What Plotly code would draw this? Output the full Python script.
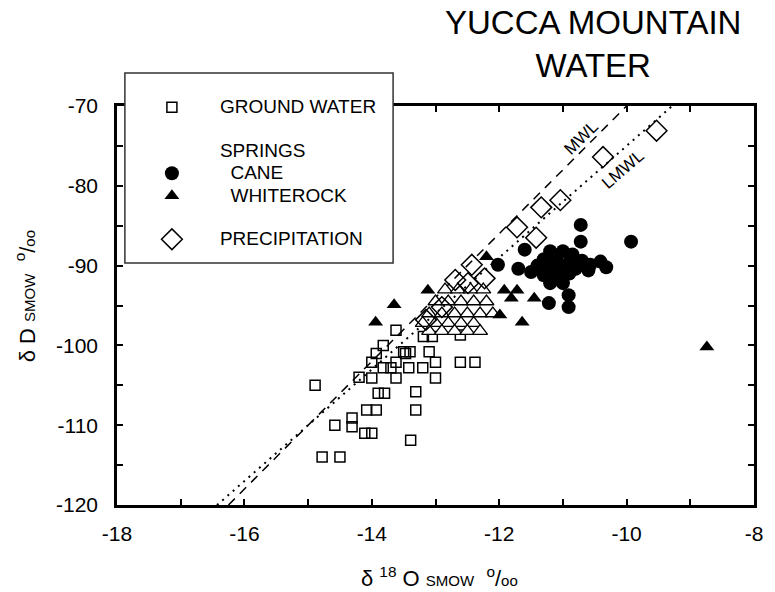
import plotly.graph_objects as go

FONT = "Liberation Sans, Arial, Helvetica, sans-serif"

# ---------------- data ----------------
gw_x = [-14.89, -14.78, -14.50, -14.58, -14.31, -14.31, -14.11, -14.00, -14.08, -13.93,
        -13.31, -13.39, -13.90, -13.80, -13.31, -14.20, -14.00, -13.62, -13.00, -13.82,
        -13.70, -13.42, -13.20, -14.00, -13.62, -13.47, -13.00, -12.61, -12.38, -13.93,
        -13.50, -13.40, -13.10, -13.82, -13.62, -13.19, -13.05, -12.61]
gw_y = [-105.0, -114.0, -114.0, -110.0, -109.1, -110.2, -111.0, -111.0, -108.1, -108.1,
        -108.1, -111.9, -106.0, -106.0, -105.8, -104.0, -104.1, -104.1, -104.1, -102.8,
        -102.8, -102.8, -102.8, -102.1, -102.1, -101.0, -102.1, -102.1, -102.1, -101.0,
        -100.8, -100.8, -100.8, -100.0, -98.1, -98.9, -98.9, -98.7]

cane_x = [-10.72, -10.72, -9.93, -11.60, -12.02, -11.50, -10.41, -10.32, -10.57, -11.22,
          -10.91, -10.91, -11.20, -11.00, -10.85, -11.30, -11.10, -10.90, -11.20, -11.00,
          -10.80, -11.30, -11.10, -10.90, -11.20, -11.00, -11.40, -10.70, -10.60, -11.70]
cane_y = [-84.9, -87.0, -87.0, -88.0, -89.9, -90.8, -89.5, -90.2, -89.9, -94.7,
          -93.7, -95.2, -88.2, -88.2, -88.6, -89.2, -89.2, -89.6, -90.2, -90.2,
          -90.4, -91.2, -91.2, -91.0, -92.2, -92.2, -90.0, -89.4, -90.6, -90.4]

wr_x = [-8.74, -11.64, -11.45, -13.12, -13.94, -13.65, -12.20, -11.92, -11.72, -11.81, -11.99]
wr_y = [-100.2, -97.1, -94.1, -93.1, -97.1, -94.9, -88.9, -93.1, -93.1, -94.1, -96.2]

wr_open_x = [-12.85, -12.65, -12.45, -12.25,
             -13.00, -12.80, -12.60, -12.40, -12.20,
             -13.10, -12.90, -12.70, -12.50, -12.30, -12.10,
             -13.20, -13.00, -12.80, -12.60, -12.40,
             -13.10, -12.90, -12.70, -12.50, -12.30]
wr_open_y = [-93.0] * 4 + [-94.5] * 5 + [-96.0] * 6 + [-97.2] * 5 + [-98.2] * 5

pr_x = [-9.53, -10.37, -11.04, -11.34, -11.72, -11.42, -12.43, -12.23, -12.69, -12.49, -12.90, -13.15]
pr_y = [-73.1, -76.4, -81.8, -82.7, -85.2, -86.5, -89.9, -91.6, -91.8, -92.2, -95.2, -96.8]

# meteoric water lines (slope, intercept, x extent)
mwl_slope, mwl_int = 8.0, 10.0
mwl_x = [-16.25, -10.0]
lmwl_slope, lmwl_int = 7.0, -5.0
lmwl_x = [-16.43, -9.29]

x_labels = list(range(-18, -7, 2))
y_labels = list(range(-120, -69, 10))

# ---------------- figure ----------------
fig = go.Figure()

fig.add_trace(go.Scatter(
    x=mwl_x, y=[mwl_slope * v + mwl_int for v in mwl_x], mode="lines",
    line=dict(color="black", width=1.5, dash="9px,7px"), showlegend=False, hoverinfo="skip"))
fig.add_trace(go.Scatter(
    x=lmwl_x, y=[lmwl_slope * v + lmwl_int for v in lmwl_x], mode="lines",
    line=dict(color="black", width=2, dash="2px,5px"), showlegend=False, hoverinfo="skip"))

big = '<span style="font-size:19px">%s</span>'

fig.add_trace(go.Scatter(
    x=gw_x, y=gw_y, mode="markers", name=big % "GROUND WATER", legendgroup="gw",
    marker=dict(symbol="square-open", size=10, color="black", line=dict(width=1.5))))
fig.add_trace(go.Scatter(
    x=[None], y=[None], mode="markers", name=big % "SPRINGS", legendgroup="springs",
    marker=dict(size=1, color="rgba(0,0,0,0)")))
fig.add_trace(go.Scatter(
    x=cane_x, y=cane_y, mode="markers", name=big % "\u00a0\u00a0CANE", legendgroup="springs",
    marker=dict(symbol="circle", size=14, color="black")))
fig.add_trace(go.Scatter(
    x=wr_open_x, y=wr_open_y, mode="markers", name="WHITEROCK open", showlegend=False,
    marker=dict(symbol="triangle-up", size=13, color="white", line=dict(color="black", width=1.3))))
fig.add_trace(go.Scatter(
    x=wr_x, y=wr_y, mode="markers", name=big % "\u00a0\u00a0WHITEROCK", legendgroup="springs",
    marker=dict(symbol="triangle-up", size=13, color="black")))
fig.add_trace(go.Scatter(
    x=pr_x, y=pr_y, mode="markers", name=big % "PRECIPITATION", legendgroup="precip",
    marker=dict(symbol="diamond-open", size=16, color="black", line=dict(width=1.5))))

axis_common = dict(
    showline=True, linecolor="black", linewidth=2.5, mirror="allticks",
    ticks="inside", ticklen=6, tickwidth=1.5, tickcolor="black",
    showgrid=False, zeroline=False,
    tickfont=dict(family=FONT, size=21, color="black"))

fig.update_xaxes(range=[-18, -8], tickmode="array", tickvals=x_labels,
                 ticktext=[str(v) for v in x_labels],
                 minor=dict(dtick=1, tick0=-18, ticks="inside", ticklen=6, tickwidth=1.5,
                            tickcolor="black", showgrid=False),
                 ticklabelstandoff=8, **axis_common)
fig.update_yaxes(range=[-120, -70], tickmode="array", tickvals=y_labels,
                 ticktext=[str(v) for v in y_labels],
                 minor=dict(dtick=5, tick0=-120, ticks="inside", ticklen=6, tickwidth=1.5,
                            tickcolor="black", showgrid=False),
                 ticklabelstandoff=12, **axis_common)

PL, PR, PT, PB = 117, 12, 106, 87
W, H = 775, 592
pw, ph = W - PL - PR, H - PT - PB

def px2paper_x(px):
    return (px - PL) / pw

def px2paper_y(py):
    return (H - PB - py) / ph

fig.update_layout(
    width=W, height=H,
    margin=dict(l=PL, r=PR, t=PT, b=PB, pad=0),
    paper_bgcolor="white", plot_bgcolor="white",
    font=dict(family=FONT, color="black"),
    showlegend=True,
    legend=dict(
        x=px2paper_x(124), y=px2paper_y(91), xanchor="left", yanchor="top",
        bgcolor="rgba(0,0,0,0)", borderwidth=0,
        font=dict(family=FONT, size=15, color="black"),
        itemwidth=86, tracegroupgap=21, traceorder="grouped",
        itemclick=False, itemdoubleclick=False),
    shapes=[dict(type="rect", xref="paper", yref="paper",
                 x0=px2paper_x(125), x1=px2paper_x(397),
                 y0=px2paper_y(263), y1=px2paper_y(73),
                 line=dict(color="#333", width=1.5), fillcolor="white", layer="above")],
    annotations=[
        dict(text="YUCCA MOUNTAIN<br>WATER", xref="paper", yref="paper",
             x=px2paper_x(600), y=px2paper_y(44), xanchor="center", yanchor="middle",
             showarrow=False, font=dict(family=FONT, size=33, color="black")),
        dict(text='δ <sup>18</sup> O <span style="font-size:15px">SMOW</span>  '
                  '<sup>o</sup>/<span style="font-size:15px">oo</span>',
             xref="paper", yref="paper", x=px2paper_x(444), y=px2paper_y(577),
             xanchor="center", yanchor="middle", showarrow=False,
             font=dict(family=FONT, size=22, color="black")),
        dict(text='δ D <span style="font-size:15px">SMOW</span>  '
                  '<sup>o</sup>/<span style="font-size:15px">oo</span>',
             xref="paper", yref="paper", x=px2paper_x(24), y=px2paper_y(296),
             xanchor="center", yanchor="middle", textangle=-90, showarrow=False,
             font=dict(family=FONT, size=22, color="black")),
        dict(text="MWL", x=-10.71, y=-73.9, xref="x", yref="y", showarrow=False,
             textangle=-44.7, font=dict(family=FONT, size=17, color="black")),
        dict(text="LMWL", x=-10.06, y=-77.9, xref="x", yref="y", showarrow=False,
             textangle=-41, font=dict(family=FONT, size=17, color="black")),
    ],
)

fig.write_html("out.html")
